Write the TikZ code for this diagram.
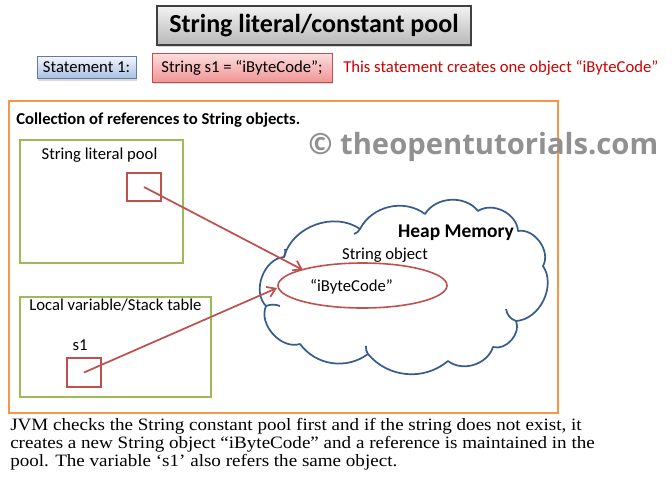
\documentclass[tikz,border=0pt]{standalone}
\usepackage{fontspec}
\setmainfont{Carlito}
\newfontfamily\bodyserif[FakeStretch=1.1]{Liberation Serif}
\newfontfamily\wmfont{Open Sans}
\usetikzlibrary{shapes.geometric,arrows.meta,shadows}
\definecolor{orangeB}{RGB}{247,150,70}
\definecolor{greenB}{RGB}{155,187,89}
\definecolor{redB}{RGB}{192,80,77}
\definecolor{cloudB}{RGB}{56,93,138}
\definecolor{redT}{RGB}{204,0,0}
\definecolor{wmgray}{RGB}{145,145,145}
\tikzset{
  titlebox/.style={draw=black!75, line width=0.8pt, top color=black!5, bottom color=black!28,
    drop shadow={shadow xshift=1pt,shadow yshift=-1.5pt,opacity=0.35},
    minimum width=235.5pt, minimum height=29.25pt, inner sep=0pt,
    font=\fontsize{19.5}{22}\selectfont\bfseries},
  stmtbox/.style={draw=cloudB!80, line width=0.5pt, top color=blue!4!white, bottom color={rgb,255:red,167;green,192;blue,224},
    drop shadow={shadow xshift=1pt,shadow yshift=-1.5pt,opacity=0.3},
    inner sep=0pt, font=\fontsize{12.5}{14}\selectfont},
  codebox/.style={draw=redB, line width=0.5pt, top color={rgb,255:red,252;green,222;blue,221}, bottom color={rgb,255:red,240;green,150;blue,149},
    drop shadow={shadow xshift=1pt,shadow yshift=-1.5pt,opacity=0.3},
    inner sep=0pt, font=\fontsize{12.5}{14}\selectfont},
  greenbox/.style={draw=greenB, line width=1.2pt, inner sep=0pt},
  cell/.style={draw=redB, line width=1.2pt, minimum width=25.5pt, inner sep=0pt},
  lbl/.style={inner sep=0pt, font=\fontsize{12.5}{14}\selectfont},
  bodyline/.style={inner sep=0pt, anchor=base west, font=\bodyserif\fontsize{13}{18}\selectfont},
  refarrow/.style={draw=redB, line width=1.3pt, -{Straight Barb[length=6pt,width=8pt,line width=1.3pt]}},
  cloudline/.style={draw=cloudB, line width=1.3pt, line join=round},
}
\begin{document}
\begin{tikzpicture}[x=0.75pt,y=-0.75pt]
\useasboundingbox (0,0) rectangle (672,480);
% header
\node[titlebox] (title) at (314,25.5) {String literal/constant pool};
\node[stmtbox, minimum width=74.25pt, minimum height=16.5pt] (stmt) at (86.5,67.5) {Statement 1:};
\node[codebox, minimum width=135pt, minimum height=21.75pt] (code) at (242,67.5) {String s1 = “iByteCode";};
\node[lbl, anchor=west, text=redT] (note) at (343,68) {This statement creates one object “iByteCode”};
% outer frame
\node[draw=orangeB, line width=1.5pt, minimum width=411.75pt, minimum height=234pt, inner sep=0pt] (frame) at (283.5,257) {};
\node[lbl, anchor=west, font=\fontsize{12.5}{14}\selectfont\bfseries] (coll) at (16,120) {Collection of references to String objects.};
% watermark
\node[inner sep=0pt, anchor=west, text=wmgray, font=\wmfont\bfseries] (wm) at (308,147) {\resizebox{262.5pt}{!}{© theopentutorials.com}};
% string literal pool
\node[greenbox, minimum width=122.25pt, minimum height=92.25pt] (pool) at (101.5,201.5) {};
\node[lbl] (poollbl) at (99.5,155) {String literal pool};
\node[cell, minimum height=21pt] (sq1) at (144,187) {};
% local variable table
\node[greenbox, minimum width=143.25pt, minimum height=75pt] (stack) at (115.5,347) {};
\node[lbl] (stacklbl) at (115.5,305) {Local variable/Stack table};
\node[lbl] (s1lbl) at (80,345) {s1};
\node[cell, minimum height=21.75pt] (sq2) at (84,372.5) {};
% heap memory cloud
\coordinate (p1) at (266,306);
\coordinate (p2) at (284,257);
\coordinate (p3) at (360,229);
\coordinate (p4) at (425,214);
\coordinate (p5) at (478,211);
\coordinate (p6) at (518,231);
\coordinate (p7) at (543,266);
\coordinate (p8) at (516,321);
\coordinate (p9) at (493,347);
\coordinate (p10) at (448,361);
\coordinate (p11) at (368,354);
\coordinate (p12) at (300,344);
\draw[cloudline] (p1) to[bend left=65] (p2) to[bend left=55] (p3) to[bend left=50] (p4)
  to[bend left=55] (p5) to[bend left=60] (p6) to[bend left=65] (p7) to[bend left=60] (p8)
  to[bend left=65] (p9) to[bend left=55] (p10) to[bend left=45] (p11) to[bend left=45] (p12)
  to[bend left=65] (p1);
% inner hooks of the cloud
\draw[cloudline] (p2) to[bend right=25] ++(1,-8);
\draw[cloudline] (p3) to[bend left=20] ++(-6,5);
\draw[cloudline] (p8) to[bend left=30] ++(-10,-12);
\draw[cloudline] (p11) to[bend left=20] ++(-2,-8);
\draw[cloudline] (p1) to[bend left=20] ++(14,0);
\node[lbl, font=\fontsize{14.6}{16}\selectfont\bfseries] (heaplbl) at (456,233) {Heap Memory};
\node[lbl] (objlbl) at (385,255) {String object};
\node[ellipse, draw=redB, line width=1.2pt, minimum width=126.75pt, minimum height=33.75pt, inner sep=0pt] (obj) at (362.5,285.5) {};
\node[lbl] (objtxt) at (351.5,287) {“iByteCode”};
% connectors
\coordinate (t1) at (303,270);
\coordinate (t2) at (277,288);
\draw[refarrow] (sq1.center) -- (t1);
\draw[refarrow] (sq2.center) -- (t2);
% description
\node[bodyline] (desc1) at (10,430) {JVM checks the String constant pool first and if the string does not exist, it};
\node[bodyline] (desc2) at (10,448) {creates a new String object “iByteCode” and a reference is maintained in the};
\node[bodyline] (desc3) at (10,466) {pool. The variable ‘s1’ also refers the same object.};
\end{tikzpicture}
\end{document}
